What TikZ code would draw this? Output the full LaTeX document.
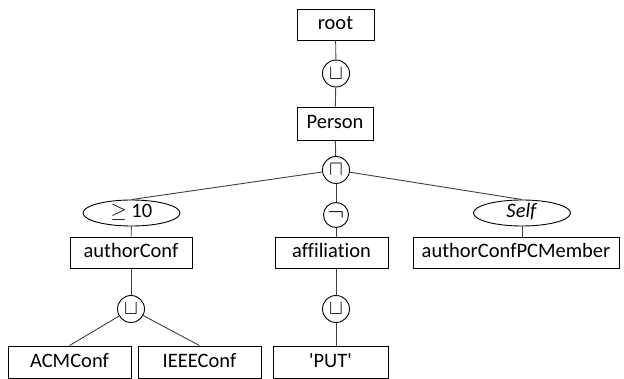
\documentclass[tikz,border=0pt]{standalone}
\usepackage{fontspec}
\setsansfont{Carlito}[Ligatures = NoCommon]
\usepackage{tikz}
\usetikzlibrary{shapes.geometric}

\begin{document}
\begin{tikzpicture}[x = 1pt, y = -1pt,
  concept/.style = {draw, shape = rectangle, line width = 0.9pt, minimum height = 31pt, inner sep = 0pt, text height = 14pt, text depth = 4pt, font = \sffamily\fontsize{20.5}{24}\selectfont},
  op/.style = {draw, shape = circle, line width = 0.9pt, minimum size = 27pt, inner sep = 0pt, font = \fontsize{22}{25}\selectfont},
  restr/.style = {draw, shape = ellipse, line width = 0.9pt, minimum width = 97pt, minimum height = 26pt, inner sep = 0pt, text height = 11pt, text depth = 1pt, font = \sffamily\fontsize{20.5}{24}\selectfont},
  link/.style = {draw = black!75, line width = 0.9pt}]
\useasboundingbox (0,0) rectangle (624,379);

\node[concept, minimum width = 77pt] (root) at (335.5, 24.5) {root};
\node[op] (join1) at (336, 73.5) {$\sqcup$};
\node[concept, minimum width = 76pt, minimum height = 33pt] (person) at (335, 123.5) {Person};
\node[op] (meet) at (336, 170) {$\sqcap$};
\node[restr] (atleast) at (131.5, 213) {$\geq$ 10};
\node[op, minimum size = 25pt, font = \fontsize{25}{28}\selectfont] (neg) at (336, 215) {$\neg$};
\node[restr] (self) at (522, 213) {\textit{Self}};
\node[concept, minimum width = 122pt] (authorconf) at (131, 252.5) {authorConf};
\node[concept, minimum width = 113pt] (affil) at (331.5, 252.5) {affiliation};
\node[concept, minimum width = 206pt] (pcmember) at (516, 252.5) {authorConfPCMember};
\node[op] (join2) at (131, 309) {$\sqcup$};
\node[op] (join3) at (336, 309) {$\sqcup$};
\node[concept, minimum width = 123pt, minimum height = 32pt] (acm) at (69.5, 362) {ACMConf};
\node[concept, minimum width = 123pt, minimum height = 32pt] (ieee) at (199.5, 362) {IEEEConf};
\node[concept, minimum width = 115pt, minimum height = 32pt] (put) at (330.5, 362) {\textquotesingle PUT\textquotesingle};

\begin{scope}[link]
\draw (root) -- (join1);
\draw (join1) -- (person);
\draw (person) -- (meet);
\draw (meet) -- (atleast.north);
\draw (meet) -- (neg);
\draw (meet) -- (self.north);
\draw (atleast) -- (authorconf);
\draw (neg) -- (neg |- affil.north);
\draw (self.south) -- (self.south |- pcmember.north);
\draw (authorconf) -- (join2);
\draw (join2) -- (acm.north);
\draw (join2) -- (ieee.north);
\draw (affil.south -| join3) -- (join3);
\draw (join3) -- (join3 |- put.north);
\end{scope}
\end{tikzpicture}
\end{document}
